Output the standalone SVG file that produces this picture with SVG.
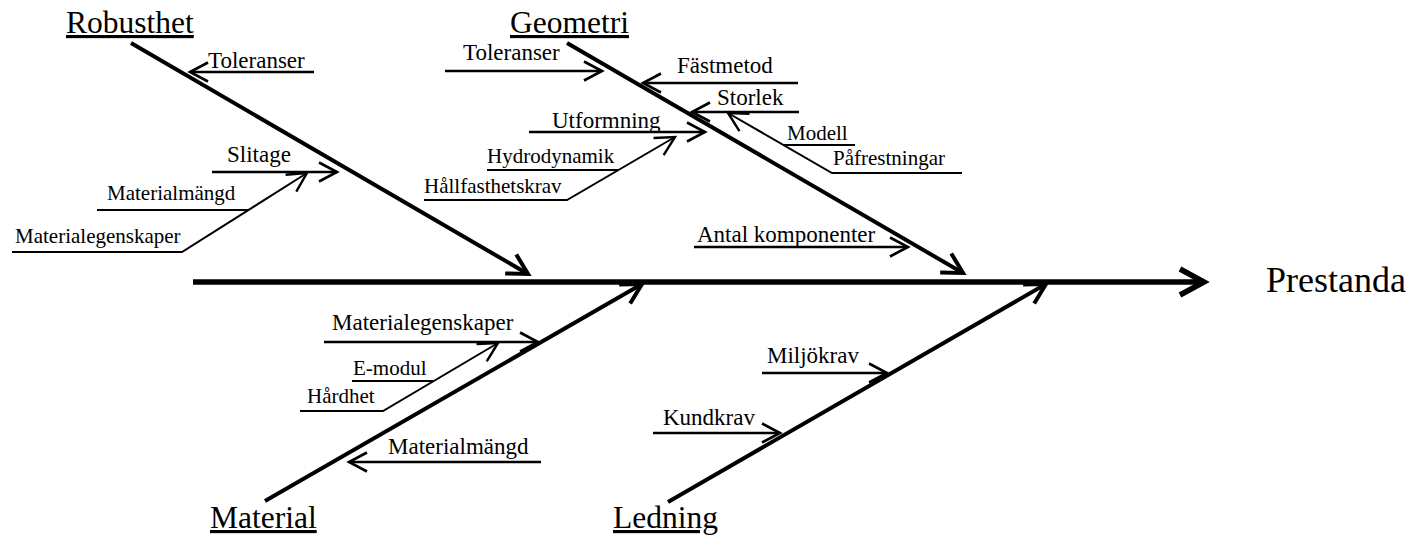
<svg xmlns="http://www.w3.org/2000/svg" width="1417" height="539" viewBox="0 0 1417 539">
  <style>
    text { font-family: "Liberation Serif", "Times New Roman", serif; fill: #000; }
    .cat { font-size: 31.5px; text-decoration: underline; }
    .eff { font-size: 36px; }
    .sub { font-size: 23px; }
    .ter { font-size: 21px; }
    line, polyline { stroke: #000; fill: none; }
    .spine { stroke-width: 5.5; marker-end: url(#headMain); }
    .bone { stroke-width: 4; marker-end: url(#headBone); }
    .cause { stroke-width: 2.6; marker-end: url(#headSub); }
    .leaf { stroke-width: 2; marker-end: url(#headLeaf); }
    .rule { stroke-width: 1.8; }
  </style>
  <defs>
    <marker id="headMain" markerUnits="userSpaceOnUse" orient="auto" refX="0" refY="0" overflow="visible">
      <path d="M-24,-13 L0,0 L-24,13" fill="none" stroke="#000" stroke-width="5.5"/>
    </marker>
    <marker id="headBone" markerUnits="userSpaceOnUse" orient="auto" refX="0" refY="0" overflow="visible">
      <path d="M-20,-11 L0,0 L-20,11" fill="none" stroke="#000" stroke-width="4"/>
    </marker>
    <marker id="headSub" markerUnits="userSpaceOnUse" orient="auto" refX="0" refY="0" overflow="visible">
      <path d="M-18,-9.5 L0,0 L-18,9.5" fill="none" stroke="#000" stroke-width="2.6"/>
    </marker>
    <marker id="headLeaf" markerUnits="userSpaceOnUse" orient="auto" refX="0" refY="0" overflow="visible">
      <path d="M-19,-10 L0,0 L-19,10" fill="none" stroke="#000" stroke-width="2.4"/>
    </marker>
  </defs>

  <g id="connectors">
    <!-- spine and main bones -->
    <line class="spine" x1="193" y1="282" x2="1204" y2="282"/>
    <line class="bone" x1="131" y1="43" x2="528" y2="274"/>
    <line class="bone" x1="567" y1="43" x2="963" y2="273"/>
    <line class="bone" x1="265" y1="501" x2="642" y2="284"/>
    <line class="bone" x1="668" y1="502" x2="1046" y2="284"/>

    <!-- Robusthet causes -->
    <line class="cause" x1="314" y1="72" x2="190" y2="72"/>
    <line class="cause" x1="212" y1="172" x2="337" y2="172"/>
    <polyline class="leaf" points="12,252 182,252 307,173"/>
    <line class="rule" x1="97" y1="210" x2="248" y2="210"/>

    <!-- Geometri causes -->
    <line class="cause" x1="445" y1="71" x2="602" y2="71"/>
    <line class="cause" x1="798" y1="83" x2="643" y2="83"/>
    <line class="cause" x1="799" y1="112" x2="692" y2="112"/>
    <line class="cause" x1="529" y1="132" x2="705" y2="132"/>
    <line class="cause" x1="694" y1="247" x2="908" y2="247"/>
    <polyline class="leaf" points="424,200 567,200 675,137"/>
    <line class="rule" x1="487" y1="170" x2="618" y2="170"/>
    <polyline class="leaf" points="962,173 832,173 728,113"/>
    <line class="rule" x1="855" y1="145" x2="783" y2="145"/>

    <!-- Material causes -->
    <line class="cause" x1="324" y1="342" x2="538" y2="342"/>
    <line class="cause" x1="541" y1="462" x2="349" y2="462"/>
    <polyline class="leaf" points="300,411 383,411 498,343"/>
    <line class="rule" x1="352" y1="381" x2="433" y2="381"/>

    <!-- Ledning causes -->
    <line class="cause" x1="762" y1="373" x2="887" y2="373"/>
    <line class="cause" x1="653" y1="433" x2="780" y2="433"/>
  </g>

  <g id="effect">
    <text class="eff" x="1266" y="292">Prestanda</text>
  </g>

  <g id="robusthet">
    <text class="cat" x="66" y="33">Robusthet</text>
    <text class="sub" x="208" y="68">Toleranser</text>
    <text class="sub" x="227" y="162">Slitage</text>
    <text class="ter" x="107" y="200">Materialmängd</text>
    <text class="ter" x="15" y="243">Materialegenskaper</text>
  </g>

  <g id="geometri">
    <text class="cat" x="510" y="33">Geometri</text>
    <text class="sub" x="463" y="60">Toleranser</text>
    <text class="sub" x="677" y="73">Fästmetod</text>
    <text class="sub" x="717" y="105">Storlek</text>
    <text class="sub" x="552" y="128">Utformning</text>
    <text class="ter" x="487" y="163">Hydrodynamik</text>
    <text class="ter" x="424" y="193">Hållfasthetskrav</text>
    <text class="ter" x="787" y="140">Modell</text>
    <text class="ter" x="833" y="165">Påfrestningar</text>
    <text class="sub" x="697" y="242">Antal komponenter</text>
  </g>

  <g id="material">
    <text class="cat" x="210" y="528">Material</text>
    <text class="sub" x="332" y="330">Materialegenskaper</text>
    <text class="ter" x="353" y="375">E-modul</text>
    <text class="ter" x="307" y="403">Hårdhet</text>
    <text class="sub" x="388" y="454">Materialmängd</text>
  </g>

  <g id="ledning">
    <text class="cat" x="613" y="528">Ledning</text>
    <text class="sub" x="767" y="363">Miljökrav</text>
    <text class="sub" x="663" y="425">Kundkrav</text>
  </g>
</svg>
